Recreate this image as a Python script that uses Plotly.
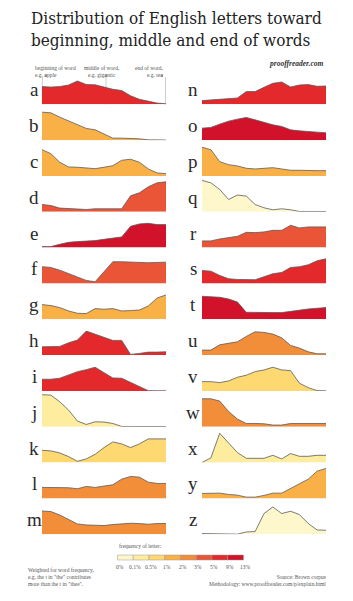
import plotly.graph_objects as go

# ---------------- data (relative frequency by position in word) ----
positions = list(range(15))  # 0 = beginning of word ... 14 = end of word

a = [17.7, 17.2, 17.7, 19.3, 23.3, 19.8, 19.5, 17.0, 15.0, 13.8, 8.5, 5.0, 3.0, 1.2, 0.5]
b = [28.0, 27.3, 23.0, 19.0, 15.5, 11.7, 10.3, 6.0, 2.0, 2.0, 1.7, 1.3, 0.3, 0.1, 0.1]
c = [26.3, 22.3, 13.7, 9.0, 8.7, 8.3, 7.3, 8.7, 10.3, 15.7, 16.7, 13.7, 7.0, 3.0, 2.3]
d = [7.3, 6.3, 3.7, 3.0, 2.7, 2.3, 3.0, 3.0, 3.0, 3.0, 16.0, 19.0, 25.0, 29.0, 30.0]
e = [1.0, 1.0, 3.3, 5.3, 6.0, 6.3, 7.0, 8.3, 9.7, 10.7, 21.3, 23.7, 24.3, 23.0, 23.0]
f = [16.7, 16.0, 13.3, 9.7, 6.7, 3.0, 1.7, 11.7, 21.7, 21.7, 21.3, 21.0, 20.7, 21.0, 21.3]
g = [14.7, 13.7, 11.7, 8.3, 6.0, 5.7, 10.7, 10.0, 10.7, 8.3, 8.7, 9.3, 13.3, 21.3, 24.3]
h = [8.3, 8.3, 8.7, 12.3, 15.0, 24.0, 20.7, 17.7, 14.7, 14.7, 0.7, 1.7, 3.0, 3.0, 3.3]
i = [11.7, 11.7, 12.7, 16.3, 19.3, 21.3, 23.7, 18.3, 13.0, 12.7, 8.7, 4.3, 0.3, 0.1, 0.1]
j = [32.0, 31.7, 25.0, 16.7, 5.7, 2.3, 5.0, 4.7, 3.3, 0.3, 0.3, 0.3, 0.3, 0.3, 0.3]
k = [12.3, 11.7, 9.7, 6.0, 1.3, 3.7, 8.3, 15.0, 20.7, 18.7, 15.0, 18.7, 23.7, 23.7, 23.7]
l = [11.0, 11.0, 11.0, 10.7, 9.7, 12.0, 11.0, 12.3, 13.7, 19.3, 22.0, 21.3, 16.3, 15.0, 15.0]
m = [23.3, 22.7, 19.3, 15.0, 10.3, 9.3, 8.7, 8.7, 9.7, 10.3, 11.0, 10.7, 10.0, 10.7, 10.7]
n = [3.7, 4.3, 5.3, 5.7, 6.3, 12.7, 12.7, 17.0, 21.0, 22.3, 17.3, 19.3, 19.7, 18.0, 18.3]
o = [12.0, 12.7, 16.0, 19.0, 21.0, 22.7, 20.3, 17.7, 15.3, 13.7, 10.3, 9.3, 9.0, 8.0, 7.3]
p = [28.7, 26.3, 14.3, 11.3, 10.0, 7.7, 7.0, 7.3, 8.3, 7.0, 5.7, 5.7, 5.3, 5.3, 5.3]
q = [31.3, 29.0, 22.3, 12.3, 16.7, 15.7, 7.3, 4.0, 2.0, 3.0, 2.0, 0.3, 0.3, 0.3, 0.3]
r = [6.7, 6.7, 8.7, 10.3, 11.3, 15.3, 15.0, 15.7, 17.3, 17.3, 22.3, 19.7, 20.7, 20.7, 20.7]
s = [13.0, 12.3, 8.0, 4.7, 4.0, 3.7, 3.7, 6.7, 9.7, 11.0, 16.0, 16.7, 18.7, 22.7, 24.7]
t = [23.0, 22.7, 22.0, 20.3, 17.3, 7.0, 6.7, 6.7, 6.7, 6.7, 8.0, 9.0, 10.3, 11.0, 11.7]
u = [5.0, 5.0, 10.3, 11.7, 13.3, 18.7, 23.3, 22.7, 21.0, 17.3, 9.7, 7.0, 3.3, 1.3, 1.3]
v = [9.3, 9.3, 8.3, 10.0, 13.7, 15.7, 19.3, 21.0, 23.7, 21.0, 20.3, 7.7, 3.3, 0.3, 0.1]
w = [28.0, 28.0, 25.7, 15.3, 7.7, 3.3, 3.3, 3.0, 1.7, 1.7, 3.3, 3.3, 3.3, 3.3, 3.3]
x = [0.1, 4.7, 29.3, 19.3, 10.0, 4.3, 4.3, 4.3, 7.3, 3.7, 9.0, 6.3, 6.3, 7.3, 7.3]
y = [5.0, 5.0, 5.3, 4.0, 3.3, 1.3, 1.3, 3.0, 5.3, 5.3, 10.0, 14.0, 19.3, 27.3, 30.0]
z = [0.7, 0.7, 0.7, 0.7, 0.1, 2.3, 2.7, 20.7, 27.3, 20.7, 23.0, 19.7, 10.7, 4.3, 4.0]

letters = list("abcdefghijklmnopqrstuvwxyz")
series = [a, b, c, d, e, f, g, h, i, j, k, l, m, n, o, p, q, r, s, t, u, v, w, x, y, z]

# frequency class of each letter (index into legend bins)
letter_bin = [6, 3, 3, 5, 7, 5, 3, 6, 6, 1, 2, 4, 4,
              6, 7, 3, 0, 5, 6, 7, 4, 2, 4, 1, 3, 0]

legend_labels = ["0%", "0.1%", "0.5%", "1%", "2%", "3%", "5%", "9%", "13%"]
legend_colors = ["#FEF7CB", "#FEEC9F", "#FED870", "#F9B147",
                 "#F28D39", "#EA5537", "#E3292B", "#D1122A"]

# ---------------- layout helpers ----------------
W, H = 353, 601
def px(xp):
    return xp / W
def py(yp):
    return 1 - yp / H

SERIF = "DejaVu Serif Condensed, DejaVu Serif, serif"
SMALL = "Liberation Serif, serif"

fig = go.Figure()
layout_axes = {}
annotations = []
shapes = []

ROW0 = 104.3
STEP = 35.83
PANEL_H = 34
YMAX = 34

for idx, (let, vals) in enumerate(zip(letters, series)):
    col = 0 if idx < 13 else 1
    row = idx % 13
    base = ROW0 + row * STEP
    top = base - PANEL_H
    x0, x1 = (42, 166) if col == 0 else (202, 326)
    nn = idx + 1
    xa = "x" if nn == 1 else f"x{nn}"
    ya = "y" if nn == 1 else f"y{nn}"
    fig.add_trace(go.Scatter(
        x=positions, y=vals, mode="lines", fill="tozeroy",
        fillcolor=legend_colors[letter_bin[idx]],
        line=dict(color="#5a5a5a", width=0.8),
        xaxis=xa, yaxis=ya, hoverinfo="skip", showlegend=False))
    kx = "xaxis" if nn == 1 else f"xaxis{nn}"
    ky = "yaxis" if nn == 1 else f"yaxis{nn}"
    layout_axes[kx] = dict(domain=[px(x0), px(x1)], range=[0, 14], visible=False,
                           anchor=ya, fixedrange=True)
    layout_axes[ky] = dict(domain=[py(base), py(top)], range=[0, YMAX], visible=False,
                           anchor=xa, fixedrange=True)
    lx = 34 if col == 0 else 193
    annotations.append(dict(
        text=let, x=px(lx), y=py(base - 2), xref="paper", yref="paper",
        xanchor="center", yanchor="bottom", showarrow=False,
        font=dict(family=SMALL, size=19, color="#2a2a2a")))

# title
annotations.append(dict(
    text="Distribution of English letters toward<br>beginning, middle and end of words",
    x=px(29), y=py(6), xref="paper", yref="paper", xanchor="left", yanchor="top",
    align="left", showarrow=False,
    font=dict(family=SERIF, size=17, color="#222")))

annotations.append(dict(
    text="<b><i>prooffreader.com</i></b>", x=px(326), y=py(63), xref="paper", yref="paper",
    xanchor="right", yanchor="middle", showarrow=False,
    font=dict(family=SMALL, size=7.5, color="#333")))

# position annotations
annotations.append(dict(
    text="beginning of word<br>e.g. <b>a</b>pple", x=px(33), y=py(63), xref="paper",
    yref="paper", xanchor="left", yanchor="top", align="left", showarrow=False,
    font=dict(family=SMALL, size=5.5, color="#555")))
annotations.append(dict(
    text="middle of word,<br>e.g. gig<b>a</b>ntic", x=px(102), y=py(63), xref="paper",
    yref="paper", xanchor="center", yanchor="top", align="center", showarrow=False,
    font=dict(family=SMALL, size=5.5, color="#555")))
annotations.append(dict(
    text="end of word,<br>e.g. te<b>a</b>", x=px(166), y=py(63), xref="paper",
    yref="paper", xanchor="right", yanchor="top", align="right", showarrow=False,
    font=dict(family=SMALL, size=5.5, color="#555")))
for tx in (42.3, 106, 165.5):
    shapes.append(dict(type="line", xref="paper", yref="paper", x0=px(tx), x1=px(tx),
                       y0=py(77), y1=py(ROW0), line=dict(color="#aaaaaa", width=0.6),
                       layer="below"))

# legend
annotations.append(dict(
    text="frequency of letter:", x=px(117), y=py(551), xref="paper", yref="paper",
    xanchor="left", yanchor="bottom", showarrow=False,
    font=dict(family=SMALL, size=5.5, color="#555")))
LX0, LX1 = 117.5, 243.5
seg = (LX1 - LX0) / len(legend_colors)
for kk, colr in enumerate(legend_colors):
    shapes.append(dict(type="rect", xref="paper", yref="paper",
                       x0=px(LX0 + kk * seg), x1=px(LX0 + (kk + 1) * seg),
                       y0=py(560), y1=py(555), fillcolor=colr,
                       line=dict(color="#999999", width=0.5)))
for kk, lab in enumerate(legend_labels):
    annotations.append(dict(
        text=lab, x=px(LX0 + kk * seg + 2), y=py(562), xref="paper", yref="paper",
        xanchor="center", yanchor="top", showarrow=False,
        font=dict(family=SMALL, size=5.5, color="#555")))

# footnotes
annotations.append(dict(
    text="Weighted for word frequency,<br>e.g. the t in \"the\" contributes<br>more than the t in \"thee\".",
    x=px(26), y=py(565), xref="paper", yref="paper", xanchor="left", yanchor="top",
    align="left", showarrow=False, font=dict(family=SMALL, size=5.5, color="#555")))
annotations.append(dict(
    text="Source: Brown corpus<br>Methodology: www.prooffreader.com/p/explain.html",
    x=px(328), y=py(572), xref="paper", yref="paper", xanchor="right", yanchor="top",
    align="right", showarrow=False, font=dict(family=SMALL, size=5.5, color="#555")))

fig.update_layout(
    width=W, height=H, margin=dict(l=0, r=0, t=0, b=0),
    paper_bgcolor="white", plot_bgcolor="rgba(0,0,0,0)",
    showlegend=False, annotations=annotations, shapes=shapes, **layout_axes)

fig.write_html("out.html", config={"displayModeBar": False})
